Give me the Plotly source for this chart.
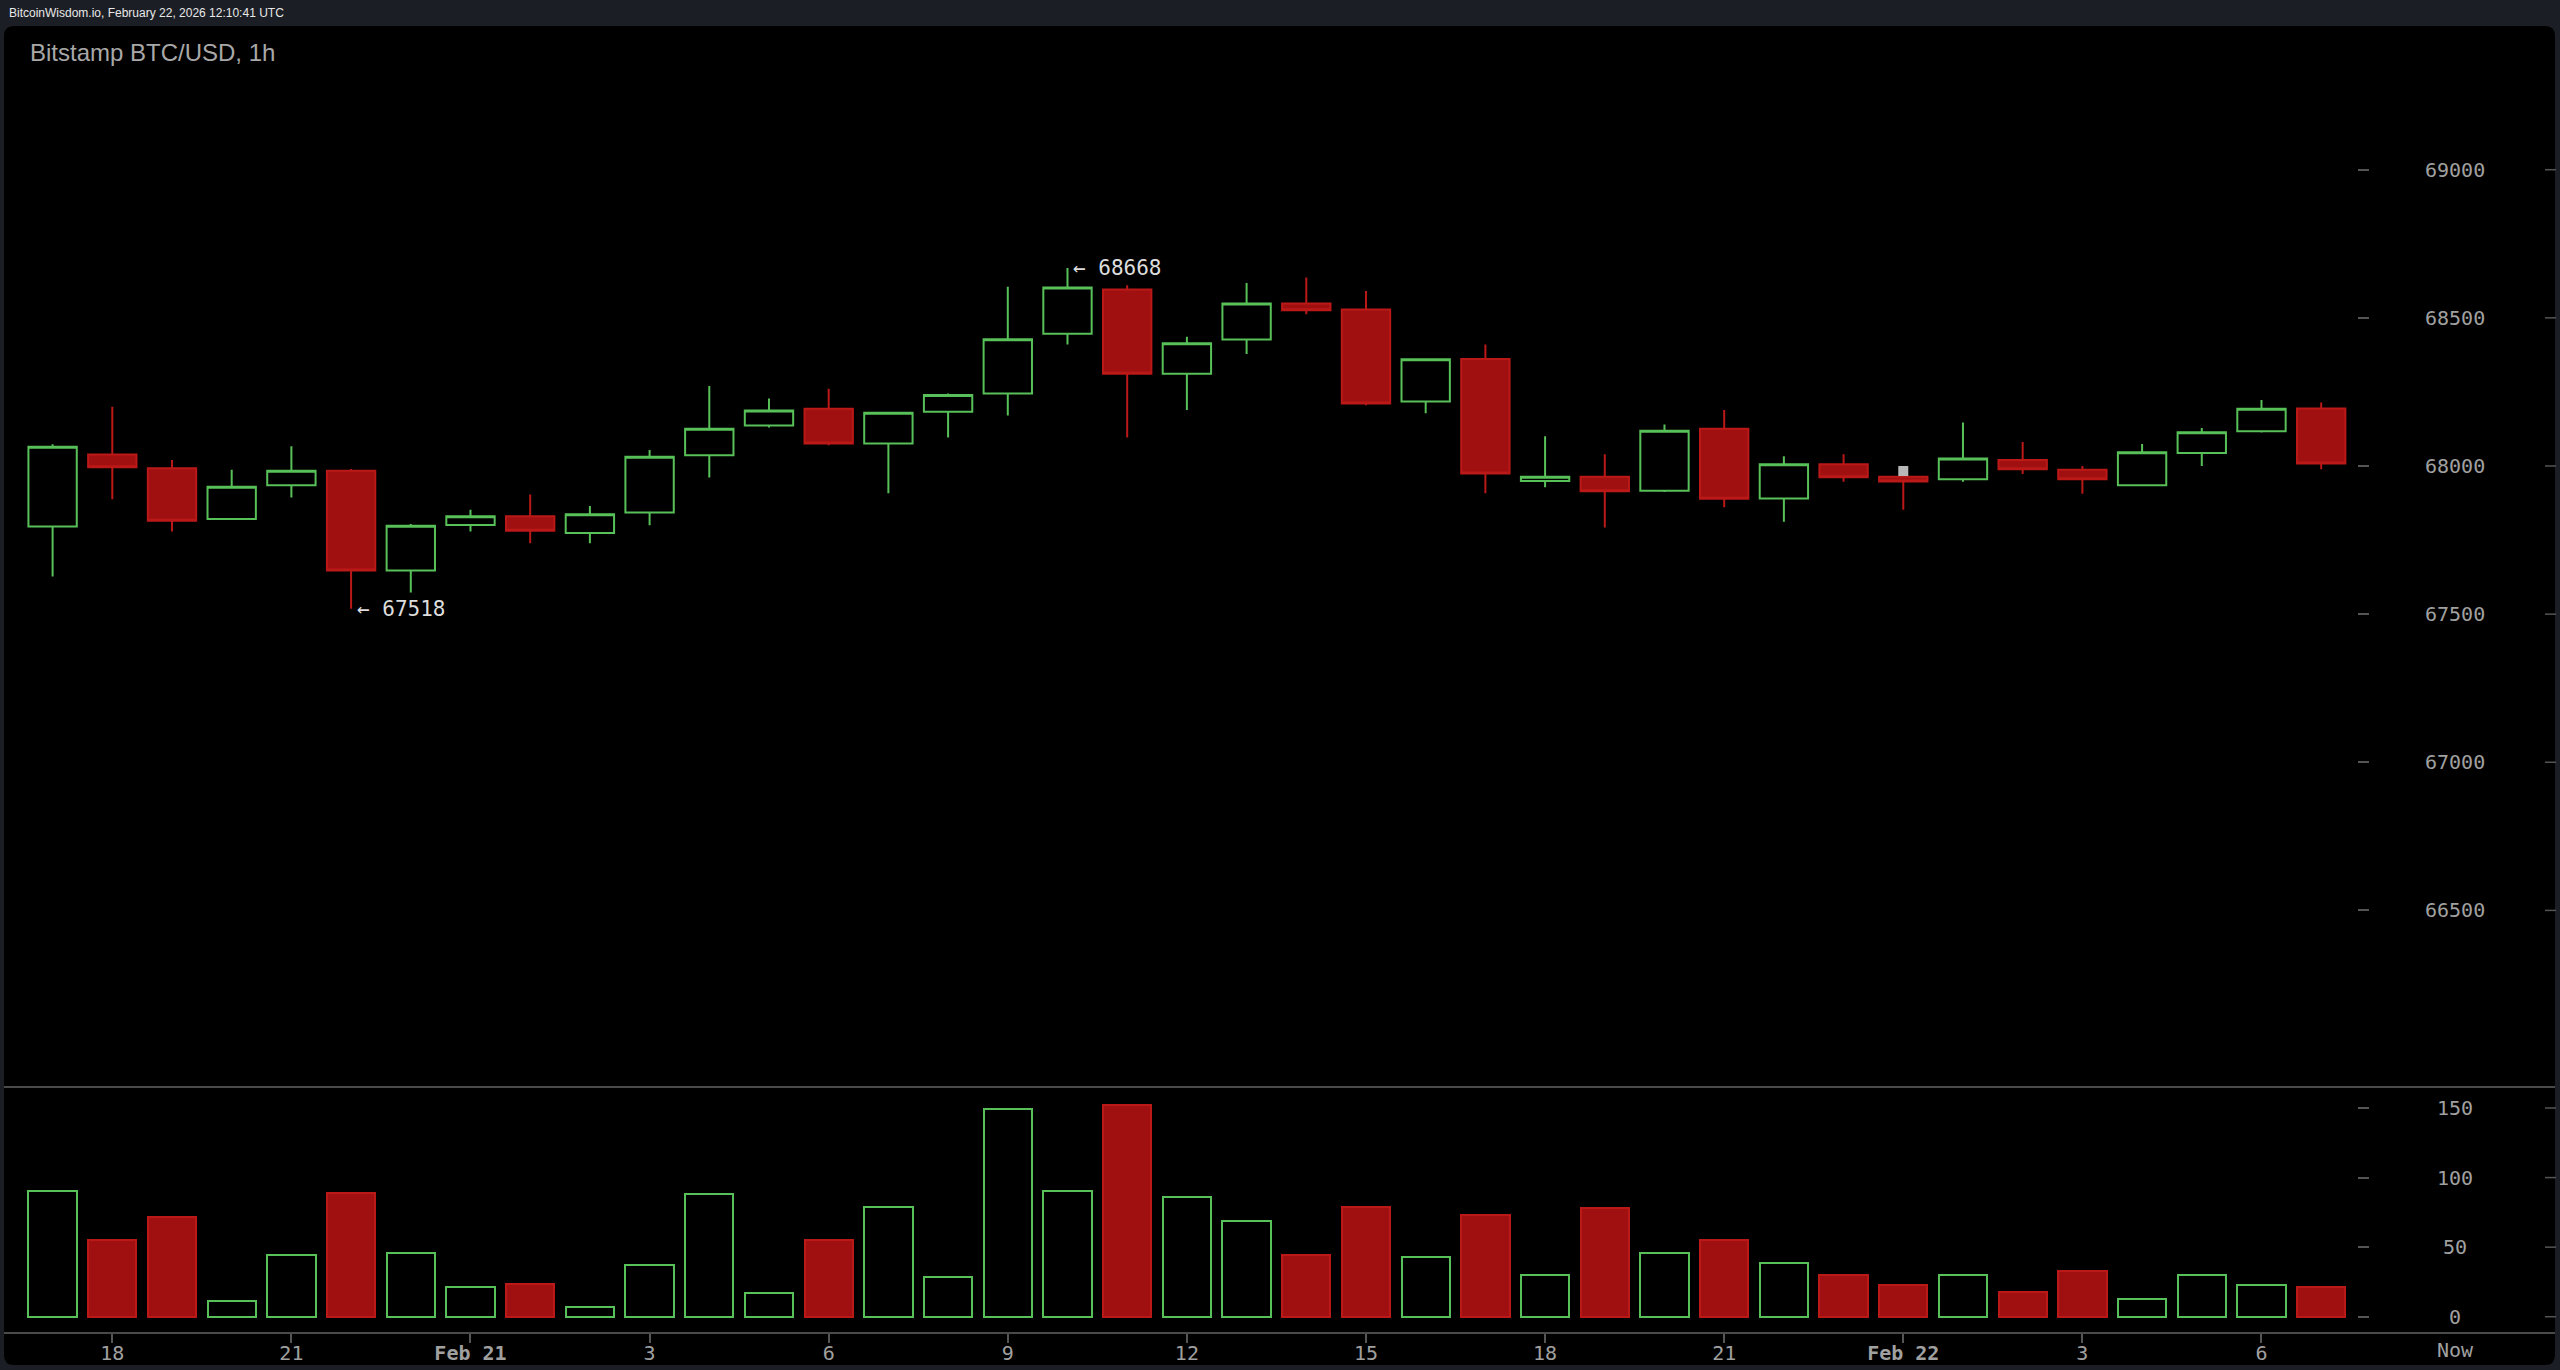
import pandas as pd
import plotly.graph_objects as go

# ---------------- data ----------------
start_time = "2026-02-20 17:00"
n_candles = 39
times = pd.date_range(start_time, periods=n_candles, freq="h")

opens = [67796, 68039, 67992, 67821, 67935, 67984, 67647, 67801, 67830, 67774,
         67843, 68036, 68137, 68193, 68076, 68183, 68245, 68446, 68596, 68311,
         68427, 68548, 68528, 68218, 68361, 67949, 67964, 67916, 68126, 67890,
         68006, 67964, 67955, 68020, 67987, 67935, 68044, 68117, 68194]
highs = [68073, 68200, 68020, 67987, 68067, 67990, 67804, 67852, 67904, 67865,
         68054, 68270, 68228, 68261, 68182, 68245, 68605, 68668, 68610, 68436,
         68618, 68636, 68591, 68362, 68410, 68100, 68040, 68140, 68189, 68033,
         68040, 67966, 68147, 68081, 68000, 68074, 68128, 68223, 68214]
lows = [67627, 67888, 67779, 67818, 67894, 67518, 67573, 67779, 67739, 67739,
        67800, 67961, 68130, 68070, 67908, 68096, 68170, 68410, 68096, 68189,
        68378, 68512, 68205, 68178, 67908, 67928, 67792, 67912, 67861, 67812,
        67947, 67852, 67947, 67973, 67906, 67933, 68000, 68113, 67989]
closes = [68065, 67996, 67815, 67930, 67984, 67647, 67798, 67830, 67781, 67837,
          68031, 68126, 68187, 68076, 68180, 68240, 68428, 68602, 68311, 68414,
          68548, 68526, 68211, 68360, 67975, 67964, 67915, 68119, 67889, 68006,
          67962, 67948, 68025, 67989, 67955, 68046, 68114, 68193, 68008]
volumes = [90, 55, 72, 11.5, 44.5, 89, 46, 21.5, 23.5, 7,
           37, 88.5, 17, 55, 79, 28.5, 149, 90, 152, 86,
           69, 44.5, 79, 43, 73, 30, 78, 46, 55, 38.5,
           30, 23, 30, 17.5, 33, 13, 30, 23, 21.5]

# last-trade marker
marker_index = 31
marker_price = 67983

price_ticks = [66500, 67000, 67500, 68000, 68500, 69000]
volume_ticks = [0, 50, 100, 150]
x_tick_times = ["2026-02-20 18:00", "2026-02-20 21:00", "2026-02-21 00:00",
                "2026-02-21 03:00", "2026-02-21 06:00", "2026-02-21 09:00",
                "2026-02-21 12:00", "2026-02-21 15:00", "2026-02-21 18:00",
                "2026-02-21 21:00", "2026-02-22 00:00", "2026-02-22 03:00",
                "2026-02-22 06:00"]
x_tick_labels = ["18", "21", "<b>Feb 21</b>", "3", "6", "9", "12", "15", "18",
                 "21", "<b>Feb 22</b>", "3", "6"]

header_text = "BitcoinWisdom.io, February 22, 2026 12:10:41 UTC"
title_text = "Bitstamp BTC/USD, 1h"

# ---------------- style ----------------
W, H = 2560, 1370
GREEN = "#58c058"
RED_FILL = "#a01010"
RED_LINE = "#bb1818"
PAGE_BG = "#1b1e25"
AXIS_GREY = "#4a4a4a"
LABEL_GREY = "#a0a0a0"
MONO = "DejaVu Sans Mono"
SANS = "Liberation Sans"


def px(x):
    return x / W


def py(y):
    return 1 - y / H


plot_left, plot_right = 4, 2357
price_top, split_y, axis_y = 26, 1087, 1333
panel_right, panel_bottom = 2555, 1365

hour = pd.Timedelta(hours=1)
x_range = [times[0] - 0.814 * hour, times[0] + 38.60 * hour]

up = [c >= o for o, c in zip(opens, closes)]

fig = go.Figure()

fig.add_trace(go.Candlestick(
    x=times, open=opens, high=highs, low=lows, close=closes,
    increasing=dict(line=dict(color=GREEN, width=2), fillcolor="#000000"),
    decreasing=dict(line=dict(color=RED_LINE, width=2), fillcolor=RED_FILL),
    whiskerwidth=0, xaxis="x", yaxis="y", showlegend=False,
    hoverinfo="x+y",
))

fig.add_trace(go.Bar(
    x=times, y=volumes, width=0.81 * 3600000,
    marker=dict(
        color=["rgba(0,0,0,0)" if u else RED_FILL for u in up],
        line=dict(color=[GREEN if u else RED_LINE for u in up], width=2),
    ),
    xaxis="x", yaxis="y2", showlegend=False,
))

fig.add_trace(go.Scatter(
    x=[times[marker_index]], y=[marker_price], mode="markers",
    marker=dict(symbol="square", size=10, color="#b8b8b8"),
    xaxis="x", yaxis="y", showlegend=False, hoverinfo="skip",
))

shapes = []
# black rounded panel
r = 10
x0, y0, x1, y1 = 4, 26, panel_right, panel_bottom
path = (f"M {px(x0 + r)} {py(y0)} L {px(x1 - r)} {py(y0)} "
        f"Q {px(x1)} {py(y0)} {px(x1)} {py(y0 + r)} "
        f"L {px(x1)} {py(y1 - r)} Q {px(x1)} {py(y1)} {px(x1 - r)} {py(y1)} "
        f"L {px(x0 + r)} {py(y1)} Q {px(x0)} {py(y1)} {px(x0)} {py(y1 - r)} "
        f"L {px(x0)} {py(y0 + r)} Q {px(x0)} {py(y0)} {px(x0 + r)} {py(y0)} Z")
shapes.append(dict(type="path", path=path, xref="paper", yref="paper",
                   fillcolor="#000000", line=dict(width=0), layer="below"))
# separator + bottom axis line
for yy in (split_y, axis_y):
    shapes.append(dict(type="line", xref="paper", yref="paper",
                       x0=px(4), x1=px(panel_right), y0=py(yy), y1=py(yy),
                       line=dict(color=AXIS_GREY, width=2), layer="below"))
# right-hand tick dashes
for v in price_ticks:
    shapes.append(dict(type="line", xref="paper", yref="y", x0=px(2545),
                       x1=px(2556), y0=v, y1=v,
                       line=dict(color="#555555", width=1.5)))
for v in volume_ticks:
    shapes.append(dict(type="line", xref="paper", yref="y2", x0=px(2545),
                       x1=px(2556), y0=v, y1=v,
                       line=dict(color="#555555", width=1.5)))

annotations = []
label_x = px(2455)
for v in price_ticks:
    annotations.append(dict(x=label_x, y=v, xref="paper", yref="y", text=str(v),
                            showarrow=False, xanchor="center", yanchor="middle",
                            font=dict(family=MONO, size=20, color=LABEL_GREY)))
for v in volume_ticks:
    annotations.append(dict(x=label_x, y=v, xref="paper", yref="y2", text=str(v),
                            showarrow=False, xanchor="center", yanchor="middle",
                            font=dict(family=MONO, size=20, color=LABEL_GREY)))
annotations.append(dict(x=label_x, y=py(1350), xref="paper", yref="paper",
                        text="Now", showarrow=False, xanchor="center",
                        yanchor="middle",
                        font=dict(family=MONO, size=20, color=LABEL_GREY)))

# high / low markers
hi_i = max(range(n_candles), key=lambda i: highs[i])
lo_i = min(range(n_candles), key=lambda i: lows[i])
for i, val in ((hi_i, highs[hi_i]), (lo_i, lows[lo_i])):
    annotations.append(dict(x=times[i], y=val, xref="x", yref="y",
                            text=f"\u2190 {val}", showarrow=False,
                            xanchor="left", yanchor="middle", xshift=4,
                            font=dict(family=MONO, size=21, color="#dddddd")))

annotations.append(dict(x=px(7), y=py(13), xref="paper", yref="paper",
                        text=header_text, showarrow=False, xanchor="left",
                        yanchor="middle",
                        font=dict(family=SANS, size=12, color="#e8e8e8")))
annotations.append(dict(x=px(28), y=py(52), xref="paper", yref="paper",
                        text=title_text, showarrow=False, xanchor="left",
                        yanchor="middle",
                        font=dict(family=SANS, size=24, color="#a8a8a8")))

fig.update_layout(
    width=W, height=H,
    margin=dict(l=0, r=0, t=0, b=0),
    paper_bgcolor=PAGE_BG,
    plot_bgcolor="rgba(0,0,0,0)",
    showlegend=False,
    boxgap=0.19, boxgroupgap=0,
    bargap=0,
    xaxis=dict(
        type="date", domain=[px(plot_left), px(plot_right)], range=x_range,
        anchor="y2", rangeslider=dict(visible=False),
        tickvals=x_tick_times, ticktext=x_tick_labels,
        ticks="outside", ticklen=9, tickwidth=1.5, tickcolor="#555555",
        ticklabelstandoff=-7,
        tickfont=dict(family=MONO, size=20, color=LABEL_GREY),
        showgrid=False, zeroline=False, showline=False,
    ),
    yaxis=dict(
        domain=[py(split_y), py(price_top)],
        range=[65904, 69485], anchor="free", position=px(plot_right),
        side="right", tickvals=price_ticks, ticks="outside", ticklen=11,
        tickwidth=1.5, tickcolor="#555555", showticklabels=False,
        showgrid=False, zeroline=False, showline=False,
    ),
    yaxis2=dict(
        domain=[py(axis_y), py(split_y)],
        range=[-11.7, 165.1], anchor="free", position=px(plot_right),
        side="right", tickvals=volume_ticks, ticks="outside", ticklen=11,
        tickwidth=1.5, tickcolor="#555555", showticklabels=False,
        showgrid=False, zeroline=False, showline=False,
    ),
    shapes=shapes,
    annotations=annotations,
)

fig.write_html(
    "out.html",
    config={"displayModeBar": False},
    post_script="document.body.style.margin='0';document.body.style.background='%s';" % PAGE_BG,
)
